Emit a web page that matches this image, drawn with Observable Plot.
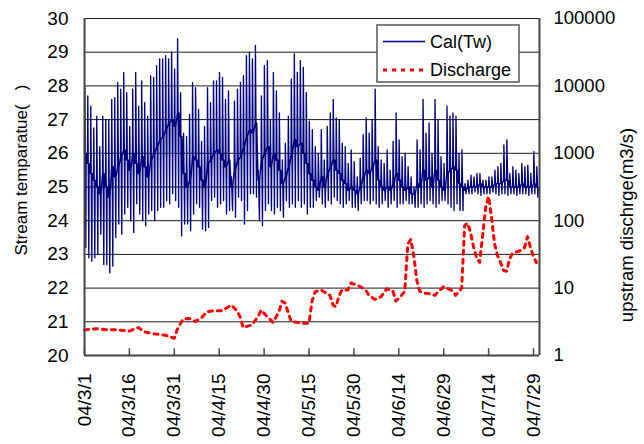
<!DOCTYPE html>
<html><head><meta charset="utf-8">
<script src="https://cdn.jsdelivr.net/npm/d3@7"></script>
<script src="https://cdn.jsdelivr.net/npm/@observablehq/plot@0.6"></script>
<style>
body{margin:0;background:#fff;}
#chart{position:absolute;left:0;top:0;}
</style></head><body><div id="chart"></div>
<script>
// ---- data ----
const startDate = "2004-03-01";
const endDate = "2004-07-31";
// daily high / low / middle of the calculated stream temperature (°C), one per day from 2004-03-01
const tHigh = [
 27.95,27.7,27.4,26.75,27.1,26.2,27.1,27.0,27.0,27.6,
 27.65,28.1,27.9,28.4,27.8,26.8,27.9,28.4,27.4,28.15,
 27.5,27.1,28.3,28.25,28.6,28.8,28.8,28.9,28.8,29.0,
 28.5,29.4,27.8,26.6,26.5,27.15,28.1,27.95,27.3,26.35,
 26.8,27.95,27.5,28.15,28.15,28.4,28.25,27.6,27.85,25.3,
 27.55,27.9,28.1,28.3,28.9,29.0,28.8,29.2,25.5,27.7,
 28.6,28.75,27.0,28.4,27.85,27.2,25.8,26.3,27.1,28.2,
 28.95,28.4,28.75,28.55,27.8,26.95,26.7,26.2,26.0,26.7,
 25.8,26.8,27.2,27.6,27.05,27.0,26.3,26.2,25.7,26.1,
 25.75,25.3,25.85,26.55,27.05,26.6,27.0,27.9,26.2,25.8,
 25.7,26.1,25.5,26.35,27.2,26.4,25.9,26.0,25.6,25.3,
 25.0,26.4,26.1,27.6,26.6,26.9,26.0,27.6,27.0,25.9,
 25.7,27.4,27.1,27.2,27.1,26.0,26.1,25.1,25.2,25.35,
 25.3,25.4,25.4,25.2,25.2,25.3,25.3,25.5,25.6,25.7,
 26.25,26.4,25.4,25.6,25.5,25.4,25.7,25.6,25.65,25.4,26.05,25.6
];
const tLow = [
 23.2,22.9,22.8,22.9,23.0,23.6,22.7,22.7,22.45,22.65,
 23.5,23.9,23.6,24.2,24.4,24.0,23.65,24.5,24.2,24.0,
 23.85,24.2,24.3,24.0,24.3,24.4,24.4,24.6,24.5,24.8,
 24.6,24.4,23.55,23.9,23.9,23.7,24.2,24.5,24.4,23.75,
 23.7,23.8,24.6,24.7,24.4,24.5,24.6,24.2,24.3,24.3,
 24.1,24.7,24.6,23.9,24.3,24.8,24.8,24.7,24.0,23.85,
 24.3,24.5,24.3,24.2,24.4,24.3,24.1,24.6,24.4,24.5,
 24.4,24.6,24.4,24.5,24.2,24.4,24.4,24.6,24.7,24.5,
 24.4,24.6,24.5,24.7,24.6,24.5,24.4,24.5,24.6,24.4,
 24.4,24.3,24.5,24.6,24.6,24.5,24.6,24.5,24.4,24.5,
 24.6,24.4,24.5,24.6,24.4,24.5,24.5,24.6,24.5,24.5,
 24.4,24.4,24.5,24.4,24.5,24.6,24.5,24.4,24.5,24.6,
 24.6,24.5,24.4,24.3,24.5,24.3,24.3,24.8,24.8,24.8,
 24.85,24.8,24.75,24.8,24.8,24.8,24.85,24.8,24.75,24.8,
 24.8,24.75,24.8,24.8,24.75,24.8,24.8,24.8,24.75,24.8,24.8,24.7
];
const tMid = [
 26.0,25.7,25.4,25.2,25.0,24.8,25.4,25.0,24.7,25.6,
 25.3,25.6,25.9,26.1,25.8,25.5,26.0,25.7,25.4,25.9,
 25.6,25.3,25.8,26.0,26.2,26.4,26.5,26.7,26.9,27.0,
 26.8,27.2,26.5,25.4,25.0,25.2,25.9,25.8,25.6,25.2,
 25.0,25.7,25.8,26.0,26.1,26.0,25.8,25.6,25.8,25.0,
 25.5,25.8,25.9,26.2,26.5,26.7,26.6,26.9,25.2,25.8,
 26.0,26.2,25.6,26.0,25.8,25.5,25.1,25.3,25.6,26.0,
 26.4,26.2,26.3,26.0,25.7,25.4,25.2,25.0,24.9,25.3,
 25.0,25.4,25.6,25.8,25.5,25.4,25.2,25.1,24.9,25.0,
 24.9,24.8,25.0,25.3,25.5,25.4,25.6,25.8,25.2,25.0,
 24.9,25.0,24.9,25.1,25.4,25.2,25.0,24.9,25.0,24.8,
 24.8,25.1,25.0,25.5,25.2,25.3,25.0,25.5,25.2,25.0,
 24.9,25.4,25.5,25.6,25.5,25.1,25.0,24.9,25.0,25.0,
 25.0,25.0,25.1,25.0,25.0,25.0,25.0,25.1,25.1,25.1,
 25.2,25.2,25.0,25.0,25.0,25.0,25.1,25.0,25.0,25.0,25.1,25.0
];
// upstream discharge (m3/s)
const qDates = [
 "2004-03-01","2004-03-05","2004-03-09","2004-03-12","2004-03-16","2004-03-19","2004-03-21","2004-03-24","2004-03-28","2004-03-31",
 "2004-04-01","2004-04-03","2004-04-05","2004-04-07","2004-04-09","2004-04-11","2004-04-14","2004-04-16","2004-04-19","2004-04-21",
 "2004-04-22","2004-04-23","2004-04-26","2004-04-28","2004-04-29","2004-05-01","2004-05-03","2004-05-05","2004-05-06","2004-05-07",
 "2004-05-08","2004-05-09","2004-05-13","2004-05-15","2004-05-16","2004-05-17","2004-05-19","2004-05-22","2004-05-23","2004-05-24",
 "2004-05-25","2004-05-26","2004-05-28","2004-05-29","2004-06-01","2004-06-03","2004-06-04","2004-06-06","2004-06-08","2004-06-10",
 "2004-06-12","2004-06-13","2004-06-15","2004-06-16","2004-06-17","2004-06-18","2004-06-19","2004-06-20","2004-06-21","2004-06-22",
 "2004-06-24","2004-06-26","2004-06-27","2004-06-29","2004-07-02","2004-07-03","2004-07-05","2004-07-06","2004-07-07","2004-07-08",
 "2004-07-09","2004-07-10","2004-07-11","2004-07-12","2004-07-13","2004-07-14","2004-07-15","2004-07-16","2004-07-17","2004-07-18",
 "2004-07-19","2004-07-20","2004-07-21","2004-07-22","2004-07-23","2004-07-24","2004-07-25","2004-07-26","2004-07-27","2004-07-28",
 "2004-07-29","2004-07-30"
];
const qValues = [
 2.4,2.5,2.4,2.4,2.3,2.6,2.25,2.1,2.0,1.8,
 2.45,3.5,3.55,3.2,3.6,4.5,4.6,4.6,5.6,4.6,
 3.7,2.6,2.85,3.8,4.7,3.8,3.1,4.5,6.4,6.0,
 4.4,3.2,3.0,3.0,6.4,8.8,9.4,7.8,5.6,5.3,
 7.6,9.4,9.4,11.9,10.6,9.3,7.8,6.8,7.4,9.8,
 9.1,6.4,7.9,9,45,53,30,13,9,8.5,
 8.3,7.8,8.7,10.5,9.1,7.8,10,85,92,66,
 40,28,24,60,158,229,110,45,30,24,
 18.2,17.8,27,33,34,35,37,40,58,40,
 29,24
];
const xTickDates = ["2004-03-01","2004-03-16","2004-03-31","2004-04-15","2004-04-30","2004-05-15","2004-05-30","2004-06-14","2004-06-29","2004-07-14","2004-07-29"];
const xTickLabels = ["04/3/1","04/3/16","04/3/31","04/4/15","04/4/30","04/5/15","04/5/30","04/6/14","04/6/29","04/7/14","04/7/29"];
const yTicks = [20,21,22,23,24,25,26,27,28,29,30];
const qTicks = [1,10,100,1000,10000,100000];
const qTickLabels = ["1","10","100","1000","10000","100000"];
const leftTitle = "Stream temparatue(   )";
const rightTitle = "upstram dischrge(m3/s)";
const legendLabels = ["Cal(Tw)","Discharge"];

// ---- build tables ----
const DAY = 864e5;
const t0 = +new Date(startDate + "T00:00:00Z");
const tempRows = [];
tHigh.forEach((h, i) => {
  const base = t0 + i * DAY;
  tempRows.push({date: new Date(base), v: tMid[i]});
  tempRows.push({date: new Date(base + 0.1 * DAY), v: h});
  tempRows.push({date: new Date(base + 0.45 * DAY), v: tLow[i]});
  tempRows.push({date: new Date(base + 0.55 * DAY), v: tMid[i]});
});
const qRows = qDates.map((d, i) => ({date: new Date(d + "T00:00:00Z"), q: qValues[i]}));
// the right (log) axis shares the frame: 1..100000 spans 20..30, two degrees per decade
const qToY = q => 20 + 2 * Math.log10(q);
const xTicks = xTickDates.map(d => new Date(d + "T00:00:00Z"));
const xDomain = [new Date(startDate + "T00:00:00Z"), new Date(endDate + "T00:00:00Z")];
const FONT = "'Liberation Sans', Arial, Helvetica, sans-serif";

const chart = Plot.plot({
  width: 644, height: 444,
  marginLeft: 84, marginRight: 105, marginTop: 18, marginBottom: 89,
  style: {fontFamily: FONT, fontSize: "18px", color: "#000", background: "#fff"},
  x: {type: "utc", domain: xDomain},
  y: {domain: [20, 30]},
  marks: [
    Plot.gridY(yTicks, {stroke: "#000", strokeOpacity: 0.9, strokeWidth: 1}),
    Plot.line(tempRows, {x: "date", y: "v", stroke: "#000080", strokeWidth: 1.35}),
    Plot.line(qRows, {x: "date", y: d => qToY(d.q), stroke: "#ff0000", strokeWidth: 3, strokeDasharray: "4,5"}),
    Plot.ruleY([20], {stroke: "#444", strokeWidth: 2}),
    Plot.ruleX(xDomain, {stroke: "#444", strokeWidth: 2}),
    Plot.ruleX(xTicks, {y1: 20, y2: 20.2, stroke: "#444", strokeWidth: 1.5}),
    Plot.axisY(yTicks, {anchor: "left", tickSize: 0, tickPadding: 16, fontSize: 19, label: null}),
    Plot.axisY(qTicks.map(qToY), {anchor: "right", tickSize: 0, tickPadding: 14, fontSize: 18.5, label: null,
      tickFormat: (d, i) => qTickLabels[i]}),
    Plot.axisX(xTicks, {anchor: "bottom", tickSize: 0, tickPadding: 18, tickRotate: -90, fontSize: 19, label: null,
      tickFormat: (d, i) => xTickLabels[i]})
  ]
});
document.getElementById("chart").appendChild(chart);

// titles and legend
const svg = d3.select(chart);
svg.append("text").attr("transform", "translate(21,170) rotate(-90)")
  .attr("text-anchor", "middle").attr("dominant-baseline", "central")
  .attr("font-family", FONT).attr("font-size", 17).attr("fill", "#000").text(leftTitle);
svg.append("text").attr("transform", "translate(626,225) rotate(-90)")
  .attr("text-anchor", "middle").attr("dominant-baseline", "central")
  .attr("font-family", FONT).attr("font-size", 18.5).attr("fill", "#000").text(rightTitle);
const lg = svg.append("g");
lg.append("rect").attr("x", 377).attr("y", 25).attr("width", 142).attr("height", 57)
  .attr("fill", "#fff").attr("stroke", "#555").attr("stroke-width", 1.5);
lg.append("line").attr("x1", 383).attr("x2", 425).attr("y1", 41.5).attr("y2", 41.5)
  .attr("stroke", "#000080").attr("stroke-width", 1.3);
lg.append("line").attr("x1", 383).attr("x2", 426).attr("y1", 70).attr("y2", 70)
  .attr("stroke", "#ff0000").attr("stroke-width", 3).attr("stroke-dasharray", "4,5");
legendLabels.forEach((t, i) => {
  lg.append("text").attr("x", 430).attr("y", i === 0 ? 41.5 : 70)
    .attr("text-anchor", "start").attr("dominant-baseline", "central")
    .attr("font-family", FONT).attr("font-size", 18)
    .attr("fill", "#000").text(t);
});
</script></body></html>
